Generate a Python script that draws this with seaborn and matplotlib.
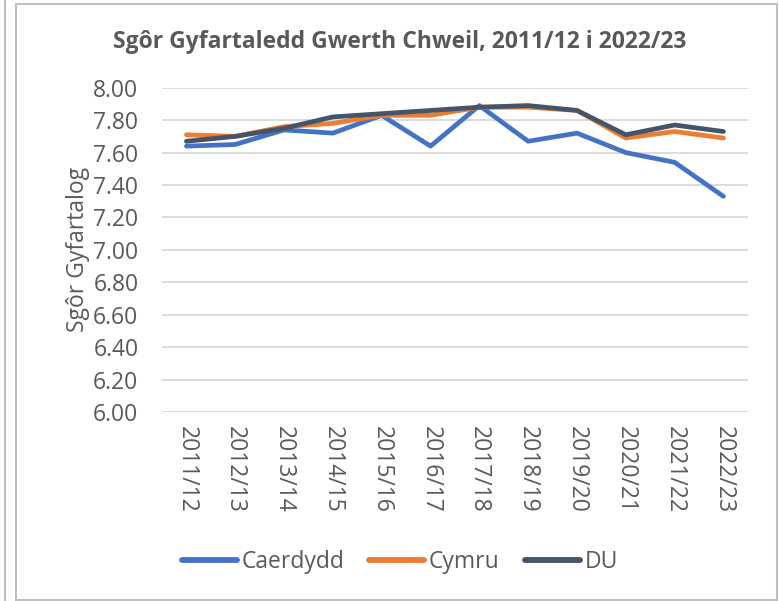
import pandas as pd
import matplotlib
matplotlib.use("Agg")
import matplotlib.pyplot as plt
import seaborn as sns
from matplotlib.patches import Rectangle
from matplotlib.lines import Line2D

years = ["2011/12", "2012/13", "2013/14", "2014/15", "2015/16", "2016/17",
         "2017/18", "2018/19", "2019/20", "2020/21", "2021/22", "2022/23"]
caerdydd = [7.64, 7.65, 7.74, 7.72, 7.83, 7.64, 7.89, 7.67, 7.72, 7.60, 7.54, 7.33]
cymru = [7.71, 7.70, 7.76, 7.78, 7.83, 7.83, 7.88, 7.88, 7.86, 7.69, 7.73, 7.69]
du = [7.67, 7.70, 7.75, 7.82, 7.84, 7.86, 7.88, 7.89, 7.86, 7.71, 7.77, 7.73]
series = ["Caerdydd", "Cymru", "DU"]
colors = ["#4472C4", "#ED7D31", "#44546A"]
yticks = [6.00, 6.20, 6.40, 6.60, 6.80, 7.00, 7.20, 7.40, 7.60, 7.80, 8.00]

df = pd.DataFrame({
    "year": years * 3,
    "score": caerdydd + cymru + du,
    "area": [s for s in series for _ in years],
})

sns.set_style("white")
plt.rcParams["font.family"] = ["Open Sans", "DejaVu Sans"]
text_col = "#595959"
fs = 16.5

fig = plt.figure(figsize=(7.79, 6.01), dpi=100)
ax = fig.add_axes([0.208, 0.3145, 0.752, 0.5395])

sns.lineplot(data=df, x="year", y="score", hue="area", hue_order=series,
             palette=colors, linewidth=3.4, sort=False, legend=False, ax=ax)

ax.set_xlim(-0.5, len(years) - 0.5)
ax.set_ylim(6.0, 8.0)
ax.set_yticks(yticks)
ax.set_yticklabels([f"{v:.2f}" for v in yticks])
ax.set_xticks(range(len(years)))
ax.set_xticklabels(years, rotation=270)
ax.tick_params(axis="both", length=0, labelsize=fs, colors=text_col)
ax.tick_params(axis="y", pad=17)
ax.tick_params(axis="x", pad=10)
ax.grid(axis="y", color="#D9D9D9", linewidth=1.3)
ax.set_axisbelow(True)
for sp in ax.spines.values():
    sp.set_visible(False)
ax.set_xlabel("")
ax.set_ylabel("Sgôr Gyfartalog", fontsize=fs, color=text_col, labelpad=2)

fig.text(0.513, 0.93, "Sgôr Gyfartaledd Gwerth Chweil, 2011/12 i 2022/23",
         ha="center", va="center", fontsize=fs, fontweight="bold", color=text_col)

handles = [Line2D([0], [0], color=c, linewidth=4.2, solid_capstyle="round") for c in colors]
fig.legend(handles, series, loc="center", bbox_to_anchor=(0.513, 0.065), ncol=3,
           frameon=False, fontsize=fs, labelcolor=text_col, handlelength=2.4,
           handletextpad=0.2, columnspacing=1.1)

# chart frame
fig.add_artist(Rectangle((16 / 779, 0.002), 761 / 779, 1 - 5 / 601, transform=fig.transFigure,
                         fill=False, edgecolor="#BFBFBF", linewidth=1.5))
fig.add_artist(Line2D([5 / 779, 5 / 779], [0, 1], transform=fig.transFigure,
                      color="#BFBFBF", linewidth=1.5))

fig.savefig("out.png", dpi=100)
